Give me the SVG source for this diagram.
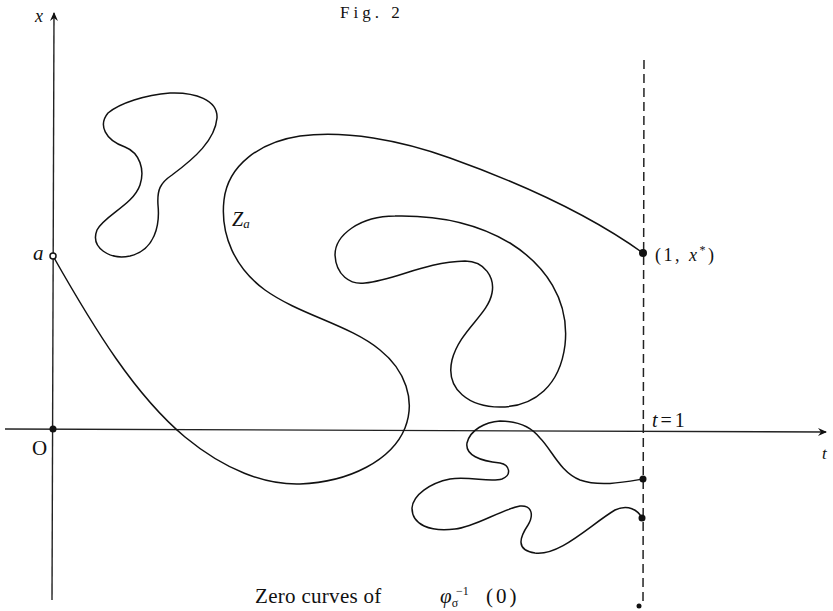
<svg xmlns="http://www.w3.org/2000/svg" width="833" height="611" viewBox="0 0 833 611">
<defs>
<style>
.ax{stroke:#222;stroke-width:1.4;fill:none}
.dash{stroke:#222;stroke-width:1.5;fill:none;stroke-dasharray:9 5}
.cv{stroke:#111;stroke-width:1.5;fill:none}
.dot{fill:#111}
.t{font-family:"Liberation Serif","Times New Roman",serif;fill:#111}
.i{font-style:italic}
</style>
<marker id="arr" markerWidth="10" markerHeight="10" refX="8" refY="5" orient="auto" markerUnits="userSpaceOnUse">
<path d="M0,1 L9,5 L0,9 L3,5 Z" fill="#111"/>
</marker>
</defs>
<rect width="833" height="611" fill="#fff"/>
<text class="t" x="340" y="18" font-size="17" letter-spacing="4">Fig. 2</text>
<g id="connectors">
<line id="t-axis" class="ax" x1="5" y1="429" x2="826" y2="432" marker-end="url(#arr)"/>
<line id="x-axis" class="ax" x1="52" y1="600" x2="54" y2="13" marker-end="url(#arr)"/>
<line id="t1-line" class="dash" x1="644" y1="60" x2="643" y2="606"/>
</g>
<g id="curve-Za">
<path class="cv" d="M53,256 C95,330 135,395 185,437 C225,470 265,485 300,484 C350,482 392,460 405,428 C416,400 405,370 380,350 C350,325 300,315 265,290 C235,268 220,235 224,200 C228,165 260,142 300,136 C345,130 400,140 450,158 C520,183 590,215 643,253"/>
<text class="t i" x="232" y="226" font-size="20">Z<tspan font-size="13" dy="2" fill="#111">a</tspan></text>
</g>
<g id="loop-s">
<path class="cv" d="M395,216 C360,216 335,235 335,255 C336,275 350,285 365,283 C395,280 425,262 465,261 C485,261 495,278 492,293 C488,315 460,330 452,360 C445,390 470,407 500,407 C535,407 560,385 565,345 C570,300 545,265 510,243 C480,225 440,215 395,216 Z"/>
</g>
<g id="loop-blob">
<path class="cv" d="M170,93 C145,95 120,103 108,113 C98,125 105,140 125,147 C140,153 145,170 140,185 C133,205 105,215 97,230 C90,248 110,260 130,256 C155,250 160,225 158,205 C157,190 160,183 172,175 C195,158 215,140 217,118 C218,100 195,92 170,93 Z"/>
</g>
<g id="curve-bottom">
<path class="cv" d="M643,479 C625,482 600,487 580,480 C560,472 552,450 540,438 C530,425 515,421 500,421 C485,422 470,430 467,443 C465,455 480,461 500,463 C510,465 512,475 502,479 C490,483 470,476 450,479 C430,483 413,495 412,508 C412,525 430,532 455,529 C475,527 500,510 520,506 C532,505 534,515 528,525 C520,537 515,550 535,553 C560,556 590,525 615,510 C628,504 638,510 642,518"/>
</g>
<g id="point-a">
<circle cx="53" cy="256" r="3" fill="#fff" stroke="#111" stroke-width="1.5"/>
<text class="t i" x="33" y="260" font-size="21">a</text>
</g>
<g id="point-O">
<circle class="dot" cx="53" cy="429" r="3.5"/>
<text class="t" x="32" y="455" font-size="21">O</text>
</g>
<g id="point-1x">
<circle class="dot" cx="643" cy="253" r="4"/>
<text class="t" x="655" y="261" font-size="18" letter-spacing="2.5">(1, <tspan class="i">x</tspan><tspan font-size="12" dy="-7">*</tspan><tspan dy="7">)</tspan></text>
</g>
<g id="point-b1"><circle class="dot" cx="643" cy="479" r="3.5"/></g>
<g id="point-b2"><circle class="dot" cx="642" cy="518" r="3.5"/></g>
<g id="point-b3"><circle class="dot" cx="639" cy="606" r="2.5"/></g>
<text class="t i" x="35" y="22" font-size="18">x</text>
<text class="t" x="652" y="427" font-size="20" letter-spacing="3"><tspan class="i">t</tspan>=1</text>
<text class="t i" x="822" y="459" font-size="17">t</text>
<text class="t" x="255" y="603" font-size="21" letter-spacing="0.3">Zero curves of</text>
<text class="t" x="440" y="603" font-size="21"><tspan class="i">φ</tspan><tspan font-size="12" dy="4">σ</tspan><tspan font-size="12" x="456" dy="-12">−1</tspan><tspan x="486" dy="8" letter-spacing="3">(0)</tspan></text>
</svg>
